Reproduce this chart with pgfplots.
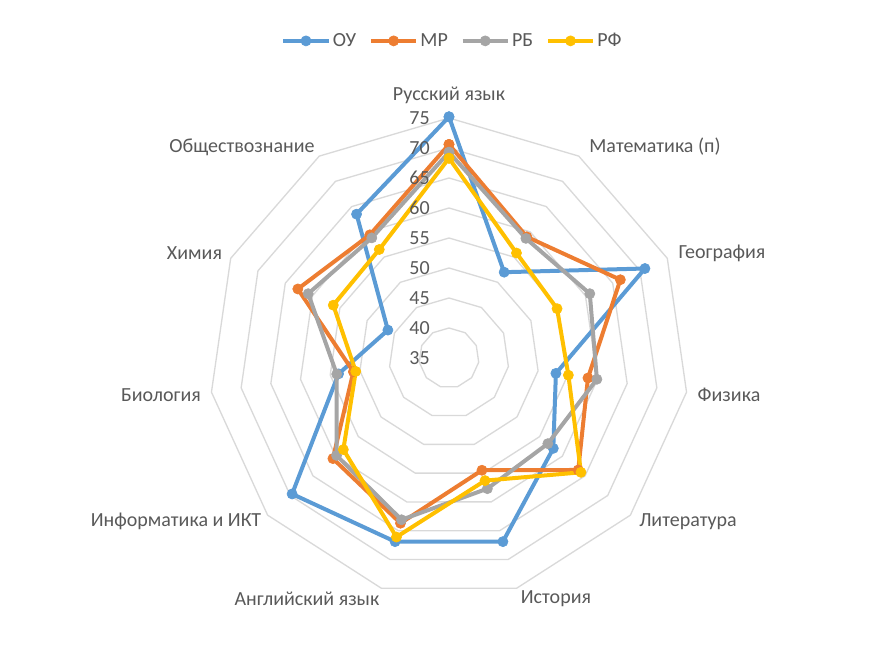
\documentclass[border=0pt]{standalone}
\usepackage{pgfplots}
\pgfplotsset{compat=1.18}
\usepackage{pgfplotstable}
\usepackage{fontspec}
\setmainfont{Carlito}
\definecolor{cOU}{HTML}{5B9BD5}
\definecolor{cMR}{HTML}{ED7D31}
\definecolor{cRB}{HTML}{A5A5A5}
\definecolor{cRF}{HTML}{FFC000}
\definecolor{gridc}{HTML}{D9D9D9}
\definecolor{txt}{HTML}{595959}

% k = category index, clockwise from top; last row closes the polygon
\pgfplotstableread{
k  ou   mr   rb   rf
0  75.2 70.6 69.3 68.3
1  52.0 59.0 58.7 55.8
2  70.9 66.4 60.8 54.8
3  53.0 58.4 59.9 55.1
4  58.0 63.5 56.8 64.1
5  66.9 54.5 57.7 56.3
6  66.9 63.7 63.1 66.1
7  69.6 60.6 59.8 58.3
8  53.6 51.1 53.9 50.7
9  46.2 62.7 60.8 56.2
10 63.5 59.4 58.8 56.5
11 75.2 70.6 69.3 68.3
}\data

\newcommand{\fs}{\fontsize{15}{18}\selectfont}

\begin{document}
\begin{tikzpicture}
\begin{axis}[
  scale only axis, width=652.5pt, height=486.75pt,
  xmin=-74.8333, xmax=70.1667, ymin=-48.5, ymax=59.6667,
  axis line style={draw=none}, xtick=\empty, ytick=\empty,
  clip=false,
  legend style={at={(0.52,0.937)}, anchor=center, draw=none, fill=none,
    font=\fs, text=txt, legend columns=4,
    nodes={inner sep=1.5pt},
    /tikz/every even column/.append style={column sep=8pt}},
  legend image code/.code={\draw[mark repeat=2,mark phase=2,#1] plot coordinates {(0cm,0cm) (0.6cm,0cm) (1.2cm,0cm)};},
  every axis plot/.append style={line width=3pt, line join=round, mark=*, mark size=3.8pt},
]
\pgfplotsinvokeforeach{40,45,50,55,60,65,70,75}{
  \addplot[gridc, line width=1pt, no marks, forget plot]
    table[x expr={(#1-35)*cos(90-\thisrow{k}*360/11)}, y expr={(#1-35)*sin(90-\thisrow{k}*360/11)}] {\data};
}
\addplot[cOU, mark options={solid, line width=0.5pt, fill=cOU}]
  table[x expr={(\thisrow{ou}-35)*cos(90-\thisrow{k}*360/11)}, y expr={(\thisrow{ou}-35)*sin(90-\thisrow{k}*360/11)}] {\data};
\addlegendentry{ОУ}
\addplot[cMR, mark options={solid, line width=0.5pt, fill=cMR}]
  table[x expr={(\thisrow{mr}-35)*cos(90-\thisrow{k}*360/11)}, y expr={(\thisrow{mr}-35)*sin(90-\thisrow{k}*360/11)}] {\data};
\addlegendentry{МР}
\addplot[cRB, mark options={solid, line width=0.5pt, fill=cRB}]
  table[x expr={(\thisrow{rb}-35)*cos(90-\thisrow{k}*360/11)}, y expr={(\thisrow{rb}-35)*sin(90-\thisrow{k}*360/11)}] {\data};
\addlegendentry{РБ}
\addplot[cRF, mark options={solid, line width=0.5pt, fill=cRF}]
  table[x expr={(\thisrow{rf}-35)*cos(90-\thisrow{k}*360/11)}, y expr={(\thisrow{rf}-35)*sin(90-\thisrow{k}*360/11)}] {\data};
\addlegendentry{РФ}

% radial value labels
\node[font=\fs, text=txt] at (axis cs:-4.9,0) {35};
\node[font=\fs, text=txt] at (axis cs:-4.9,5) {40};
\node[font=\fs, text=txt] at (axis cs:-4.9,10) {45};
\node[font=\fs, text=txt] at (axis cs:-4.9,15) {50};
\node[font=\fs, text=txt] at (axis cs:-4.9,20) {55};
\node[font=\fs, text=txt] at (axis cs:-4.9,25) {60};
\node[font=\fs, text=txt] at (axis cs:-4.9,30) {65};
\node[font=\fs, text=txt] at (axis cs:-4.9,35) {70};
\node[font=\fs, text=txt] at (axis cs:-4.9,40) {75};

% category labels
\node[font=\fs, text=txt] at (axis cs:0,43.83) {Русский язык};
\node[font=\fs, text=txt] at (axis cs:34.33,35.17) {Математика (п)};
\node[font=\fs, text=txt] at (axis cs:45.5,17.5) {География};
\node[font=\fs, text=txt] at (axis cs:46.67,-6.17) {Физика};
\node[font=\fs, text=txt] at (axis cs:39.83,-27.28) {Литература};
\node[font=\fs, text=txt] at (axis cs:17.83,-40.17) {История};
\node[font=\fs, text=txt] at (axis cs:-23.67,-40.17) {Английский язык};
\node[font=\fs, text=txt] at (axis cs:-45.5,-27.28) {Информатика и ИКТ};
\node[font=\fs, text=txt] at (axis cs:-48,-6.17) {Биология};
\node[font=\fs, text=txt] at (axis cs:-42.42,17.5) {Химия};
\node[font=\fs, text=txt] at (axis cs:-34.5,35.17) {Обществознание};
\end{axis}
\end{tikzpicture}
\end{document}
